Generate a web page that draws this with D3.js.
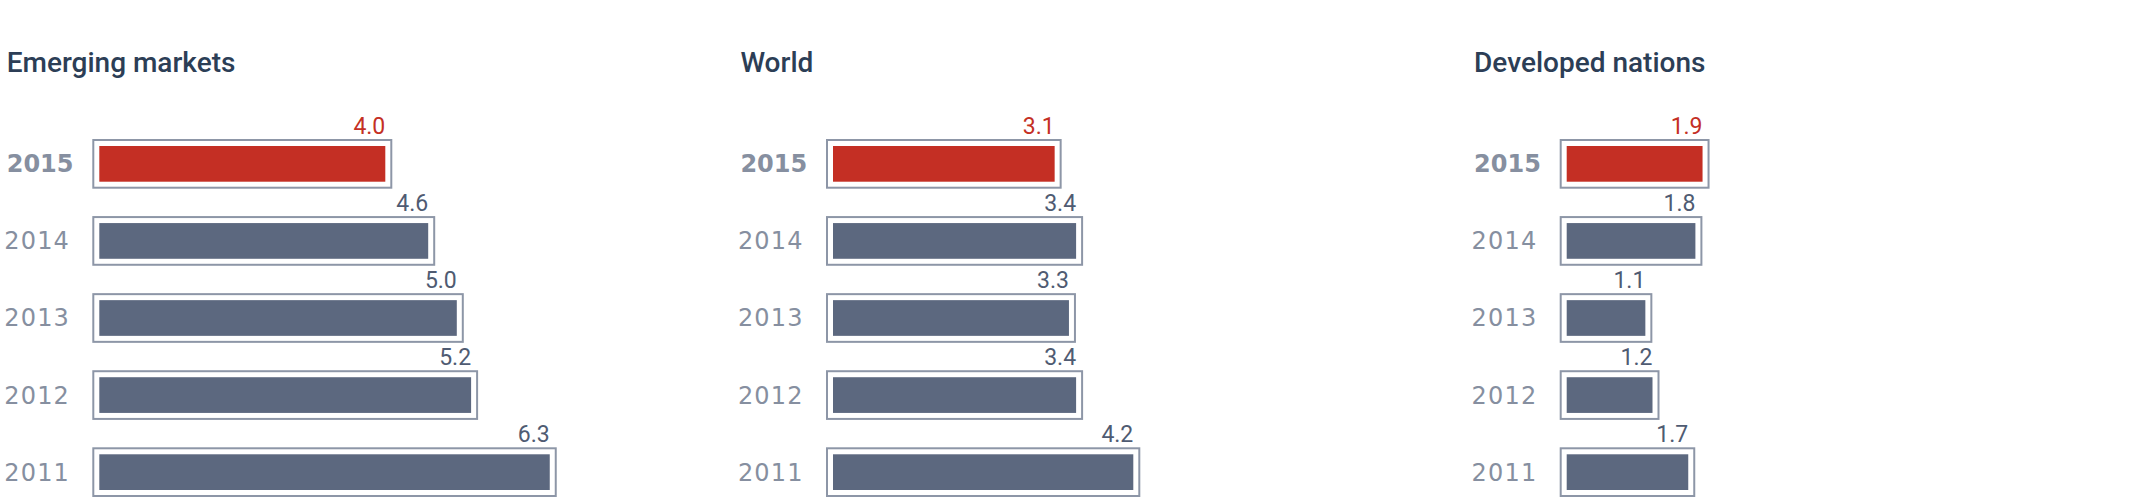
<!DOCTYPE html>
<html>
<head>
<meta charset="utf-8">
<script src="https://cdn.jsdelivr.net/npm/d3@7"></script>
<style>
  html, body { margin: 0; padding: 0; background: #fff; }
  #chart { width: 2150px; height: 500px; }
</style>
</head>
<body>
<div id="chart"></div>
<script>
const years = ["2015", "2014", "2013", "2012", "2011"];
const panelTitles = ["Emerging markets", "World", "Developed nations"];
const emerging = [4.0, 4.6, 5.0, 5.2, 6.3];
const world = [3.1, 3.4, 3.3, 3.4, 4.2];
const developed = [1.9, 1.8, 1.1, 1.2, 1.7];
const highlightYear = "2015";

const series = [emerging, world, developed];

const width = 2150;
const height = 500;

const svg = d3.select("#chart")
  .append("svg")
  .attr("width", width)
  .attr("height", height);

// shared value scale for all three panels
const x = d3.scaleLinear()
  .domain([0, 10])
  .range([0, 715]);

const y = d3.scaleBand()
  .domain(years)
  .range([140, 496])
  .paddingInner(0.381)
  .paddingOuter(0);

const pad = 6;

panelTitles.forEach((title, p) => {
  const left = 6.7 + p * 733.7;
  const barX = left + 92.6;
  const rows = years.map((yr, i) => ({ year: yr, value: series[p][i] }));

  const g = svg.append("g").attr("class", "panel");

  g.append("text")
    .attr("x", left)
    .attr("y", 72.3)
    .attr("font-family", "Roboto, sans-serif")
    .attr("font-size", 28)
    .attr("font-weight", 500)
    .attr("fill", "#2c3e56")
    .text(title);

  const row = g.selectAll(".row")
    .data(rows)
    .join("g")
    .attr("class", "row");

  row.append("text")
    .attr("x", d => d.year === highlightYear ? left : left - 2.5)
    .attr("y", d => y(d.year) + 32.3)
    .attr("font-family", "'DejaVu Sans', sans-serif")
    .attr("font-size", 24)
    .attr("font-weight", d => d.year === highlightYear ? "bold" : "normal")
    .attr("letter-spacing", d => d.year === highlightYear ? 0 : 1.2)
    .attr("fill", "#868fa0")
    .text(d => d.year);

  // outer frame
  row.append("rect")
    .attr("x", barX - pad)
    .attr("y", d => y(d.year))
    .attr("width", d => x(d.value) + pad * 2)
    .attr("height", y.bandwidth())
    .attr("fill", "#fff")
    .attr("stroke", "#8d96a7")
    .attr("stroke-width", 2);

  // bar
  row.append("rect")
    .attr("x", barX)
    .attr("y", d => y(d.year) + pad)
    .attr("width", d => x(d.value))
    .attr("height", y.bandwidth() - pad * 2)
    .attr("fill", d => d.year === highlightYear ? "#c42f24" : "#5c687f");

  row.append("text")
    .attr("x", d => barX + x(d.value))
    .attr("y", d => y(d.year) - 6)
    .attr("text-anchor", "end")
    .attr("font-family", "Roboto, sans-serif")
    .attr("font-size", 23)
    .attr("fill", d => d.year === highlightYear ? "#c42f24" : "#4f5b72")
    .text(d => d.value.toFixed(1));
});
</script>
</body>
</html>
